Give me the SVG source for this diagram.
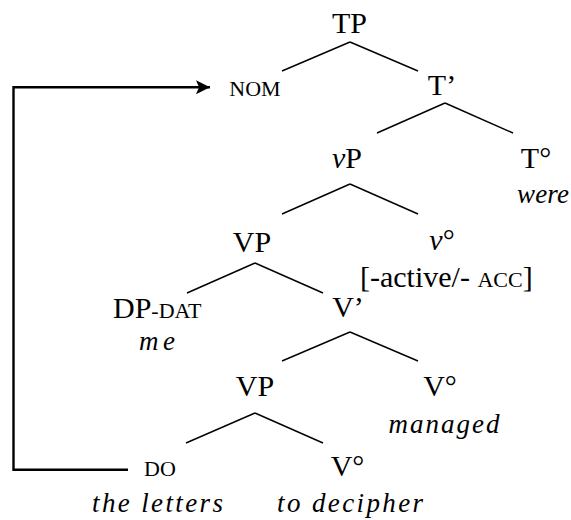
<svg xmlns="http://www.w3.org/2000/svg" width="571" height="520" viewBox="0 0 571 520">
<style>
text{font-family:"Liberation Serif","Times New Roman",serif;fill:#000;font-size:30px;text-anchor:middle}
.sc{font-size:22px}
.it{font-style:italic;font-size:27px}
.st{text-anchor:start}
.edges line{stroke:#000;stroke-width:1.4}
.move{fill:none;stroke:#000;stroke-width:2.4}
</style>
<defs>
<marker id="ah" markerUnits="userSpaceOnUse" markerWidth="16" markerHeight="16" refX="14" refY="7" orient="auto">
<path d="M0,0 L14,7 L0,14 L3,7 Z" fill="#000"/>
</marker>
</defs>
<rect width="571" height="520" fill="#fff"/>
<g class="edges" id="connectors">
<line x1="350" y1="42" x2="282" y2="71"/>
<line x1="350" y1="42" x2="418" y2="71"/>
<line x1="445" y1="103" x2="377" y2="133"/>
<line x1="445" y1="103" x2="513" y2="133"/>
<line x1="350" y1="184" x2="282" y2="214"/>
<line x1="350" y1="184" x2="418" y2="214"/>
<line x1="255" y1="263" x2="187" y2="293"/>
<line x1="255" y1="263" x2="323" y2="293"/>
<line x1="350" y1="332" x2="282" y2="361"/>
<line x1="350" y1="332" x2="418" y2="361"/>
<line x1="255" y1="413" x2="186" y2="443"/>
<line x1="255" y1="413" x2="323" y2="443"/>
<path class="move" d="M128,469.7 H13.5 V87.3 H210" marker-end="url(#ah)"/>
</g>
<g id="TP"><text x="349.5" y="32.7">TP</text></g>
<g id="NOM"><text class="sc" x="255" y="95.7">NOM</text></g>
<g id="Tbar"><text x="442" y="95">T’</text></g>
<g id="vP"><text x="347" y="168.3"><tspan font-style="italic">v</tspan>P</text></g>
<g id="T0"><text x="536" y="168.3">T°</text><text class="it" x="543" y="203.3" textLength="52" lengthAdjust="spacing">were</text></g>
<g id="VP1"><text x="252" y="251.7">VP</text></g>
<g id="v0"><text x="442" y="250"><tspan font-style="italic">v</tspan>°</text>
<text class="st" x="360" y="286.7">[-active/- <tspan class="sc">ACC</tspan>]</text></g>
<g id="DP"><text class="st" x="113" y="318.3">DP<tspan class="sc">-DAT</tspan></text><text class="it" x="157" y="350" textLength="36" lengthAdjust="spacing">me</text></g>
<g id="Vbar"><text x="348" y="317.3">V’</text></g>
<g id="VP2"><text x="255" y="395.7">VP</text></g>
<g id="V0a"><text x="440" y="395.7">V°</text><text class="it" x="444" y="433.3" textLength="111" lengthAdjust="spacing">managed</text></g>
<g id="DO"><text class="sc" x="160" y="476">DO</text><text class="it" x="157.5" y="511.7" textLength="131" lengthAdjust="spacing">the letters</text></g>
<g id="V0b"><text x="347.5" y="476">V°</text><text class="it" x="350" y="511.7" textLength="146" lengthAdjust="spacing">to decipher</text></g>
</svg>
